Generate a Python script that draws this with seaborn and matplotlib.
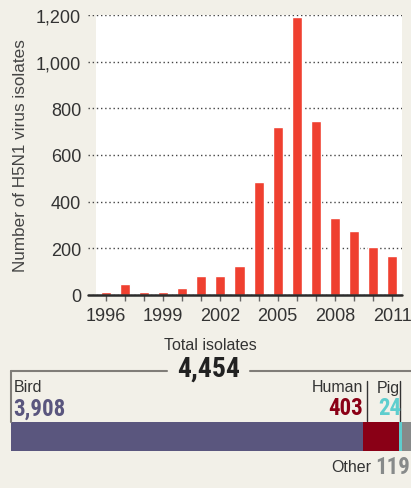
import numpy as np
import matplotlib
matplotlib.use('Agg')
import matplotlib.pyplot as plt
from matplotlib.lines import Line2D
from matplotlib import font_manager as fm
import seaborn as sns

# --- data ---
years = [1996, 1997, 1998, 1999, 2000, 2001, 2002, 2003,
         2004, 2005, 2006, 2007, 2008, 2009, 2010, 2011]
isolates = [14, 47, 14, 14, 30, 80, 80, 123,
            483, 720, 1192, 745, 329, 273, 207, 166]
y_ticks = [0, 200, 400, 600, 800, 1000, 1200]
x_label_years = [1996, 1999, 2002, 2005, 2008, 2011]

hosts = ['Bird', 'Human', 'Pig', 'Other']
host_counts = [3908, 403, 24, 119]
total_isolates = 4454

BG = '#f2f0e8'
RED = '#ef4030'
host_colors = {'Bird': '#5a567e', 'Human': '#8a0016', 'Pig': '#5ecece', 'Other': '#878a8a'}

W, H = 411, 489
sns.set_theme(style='white')
plt.rcParams['font.family'] = ['Liberation Sans', 'DejaVu Sans']


def narrow_bold():
    # look for a condensed bold face for the big numbers
    wanted = ['LiberationSansNarrow-Bold', 'RobotoCondensed-Bold', 'NotoSans-CondensedBold',
              'OpenSans_Condensed-Bold', 'OpenSansCondensed-Bold', 'DejaVuSansCondensed-Bold']
    files = [f.fname for f in fm.fontManager.ttflist]
    for w in wanted:
        for f in files:
            if f.split('/')[-1].startswith(w + '.'):
                return fm.FontProperties(fname=f)
    for f in fm.fontManager.ttflist:
        name = f.fname.split('/')[-1]
        if ('Condensed' in name or 'Narrow' in name) and 'Bold' in name \
                and 'Extra' not in name and 'Semi' not in name and 'Italic' not in name:
            return fm.FontProperties(fname=f.fname)
    return fm.FontProperties(family='DejaVu Sans', weight='bold', stretch='condensed')


NUM_FONT = narrow_bold()


def px(x, y):
    return x / W, 1 - y / H


def big_number(x, y, s, size, color, ha):
    fp = NUM_FONT.copy()
    fp.set_size(size)
    return fig.text(*px(x, y), s, ha=ha, va='center', fontproperties=fp, color=color)


fig = plt.figure(figsize=(W / 100, H / 100), dpi=100, facecolor=BG)

# --- top: bars per year ---
ax = fig.add_axes([88 / W, 1 - 296 / H, (402 - 88) / W, (296 - 16) / H])
ax.set_facecolor(BG)
ax.axvspan(-0.524, 15.6, color='white', zorder=0, lw=0)
sns.barplot(x=years, y=isolates, color=RED, saturation=1, width=0.53, ax=ax, zorder=2)
ax.set_xlim(-0.944, 15.52)
ax.set_ylim(0, 1200)
ax.set_axisbelow(True)
ax.yaxis.grid(True, linestyle=(0, (1, 2)), color='#444444', lw=1)
ax.xaxis.grid(False)
for s in ax.spines.values():
    s.set_visible(False)
ax.axhline(0, color='#2b2b2b', lw=1.8, zorder=3, clip_on=False)

ax.set_yticks(y_ticks)
ax.set_yticklabels([f'{v:,}' for v in y_ticks])
ax.tick_params(axis='y', length=0, pad=5, labelsize=13, labelcolor='#333333')
ax.set_xticks(range(len(years)))
ax.set_xticklabels([str(y) if y in x_label_years else '' for y in years])
ax.tick_params(axis='x', bottom=True, length=4.5, width=1, color='#666666',
               pad=4, labelsize=13, labelcolor='#333333')
ax.set_xlabel('')
ax.set_ylabel('')
fig.text(*px(21, 156), 'Number of H5N1 virus isolates', rotation=90,
         ha='center', va='center', fontsize=12.3, color='#444444')

# --- bottom: stacked host bar ---
fig.text(*px(210, 346), 'Total isolates', ha='center', va='center',
         fontsize=11.5, color='#333333')
big_number(209, 369, f'{total_isolates:,}', 20, '#222222', 'center')

line_kw = dict(transform=fig.transFigure, color='#807d78', lw=1.5)
for (x1, y1), (x2, y2) in [((11, 372), (167, 372)), ((250, 372), (411, 372)),
                           ((11, 372), (11, 423))]:
    a, b = px(x1, y1), px(x2, y2)
    fig.add_artist(Line2D([a[0], b[0]], [a[1], b[1]], **line_kw))
for x in [367, 400]:
    a, b = px(x, 382), px(x, 422)
    fig.add_artist(Line2D([a[0], b[0]], [a[1], b[1]], transform=fig.transFigure,
                          color='#333333', lw=1))

bx = fig.add_axes([11 / W, 1 - 452 / H, 400 / W, 29 / H])
lefts = np.concatenate([[0], np.cumsum(host_counts)[:-1]])
bx.barh([0] * len(hosts), host_counts, left=lefts, height=1,
        color=[host_colors[h] for h in hosts], lw=0)
bx.set_xlim(0, 4440)
bx.set_ylim(-0.5, 0.5)
bx.axis('off')

fig.text(*px(14, 388), hosts[0], ha='left', va='center', fontsize=11.5, color='#333333')
big_number(13, 409, f'{host_counts[0]:,}', 16.5, host_colors['Bird'], 'left')
fig.text(*px(363, 388), hosts[1], ha='right', va='center', fontsize=11.5, color='#333333')
big_number(363, 409, f'{host_counts[1]:,}', 16.5, host_colors['Human'], 'right')
fig.text(*px(377, 388), hosts[2], ha='left', va='center', fontsize=11.5, color='#333333')
big_number(378, 409, f'{host_counts[2]:,}', 16.5, host_colors['Pig'], 'left')

# "Other 119" hugs the right edge
other_num = big_number(410, 468, f'{host_counts[3]:,}', 16.5, host_colors['Other'], 'right')
renderer = fig.canvas.get_renderer()
num_left = other_num.get_window_extent(renderer).x0
fig.text(*px(num_left - 4, 468), hosts[3], ha='right', va='center',
         fontsize=11.5, color='#333333')

fig.savefig('out.png', dpi=100, facecolor=BG)
